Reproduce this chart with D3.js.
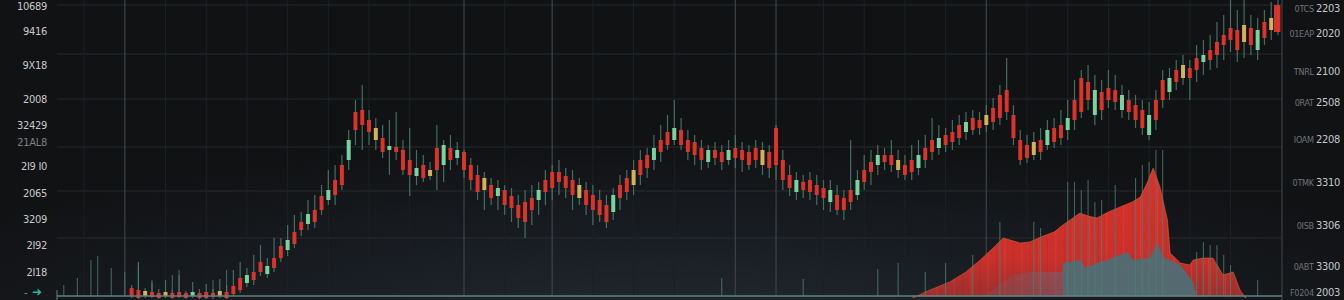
<!DOCTYPE html>
<html>
<head>
<meta charset="utf-8">
<script src="https://cdn.jsdelivr.net/npm/d3@7"></script>
<style>
    html, body { margin: 0; padding: 0; background: #121315; overflow: hidden; }
    #chart { width: 1344px; height: 300px; }
</style>
</head>
<body>
<div id="chart"></div>
<script>

// candles, one per day: [open, close, high, low]
const candles = [
    [12,4,15,2],[10,2,38,1],[4,9,12,2],[8,3,18,2],[7,2,11,1],[4,8,20,2],[7,2,10,1],[8,3,25,2],[7,2,9,1],[4,8,18,2],
    [7,2,11,1],[8,2,16,1],[7,3,11,1],[4,9,21,2],[8,2,15,1],[14,6,30,4],[22,10,38,7],[17,25,32,13],[28,20,45,15],[38,28,55,24],
    [26,34,42,22],[42,32,62,28],[54,42,62,38],[50,60,75,44],[68,56,85,52],[78,70,88,64],[76,86,100,70],[90,78,105,72],[104,90,115,85],[100,110,130,95],
    [120,105,135,95],[135,115,145,110],[140,160,170,130],[188,170,200,155],[190,175,215,150],[180,168,190,155],[160,172,182,150],[162,148,175,142],[150,154,180,125],[153,148,188,140],
    [150,130,160,125],[140,125,172,104],[124,132,150,115],[135,122,145,118],[124,130,138,120],[152,130,175,110],[135,155,160,118],[152,140,165,130],[142,150,158,135],[148,130,150,122],
    [135,120,142,110],[125,108,135,100],[110,122,128,90],[115,102,122,95],[104,112,120,90],[110,95,115,85],[104,92,112,78],[95,82,105,72],[98,78,110,62],[102,90,115,75],
    [100,110,118,85],[120,108,130,95],[128,112,135,100],[128,118,140,105],[124,112,132,102],[120,105,130,90],[102,115,122,95],[110,95,118,85],[105,90,115,75],[100,85,110,78],
    [95,78,105,72],[88,105,112,80],[115,102,125,90],[122,108,130,100],[115,130,140,105],[140,125,150,115],[145,132,152,122],[140,152,165,130],[160,148,175,138],[168,155,185,150],
    [160,172,200,155],[170,155,182,150],[160,148,170,140],[158,145,165,135],[152,140,160,130],[138,150,155,132],[150,142,158,135],[148,138,155,130],[140,150,160,135],[152,142,165,132],
    [150,140,158,128],[148,135,155,130],[152,140,160,132],[135,150,158,125],[148,132,155,122],[172,135,175,120],[140,120,150,110],[125,112,135,104],[108,120,128,100],[118,110,125,102],
    [120,108,128,100],[115,105,125,95],[112,102,120,90],[98,110,120,88],[105,90,115,85],[102,90,110,80],[110,98,160,90],[105,120,130,100],[130,118,145,110],[138,128,150,115],
    [135,145,155,125],[145,138,152,130],[145,135,160,128],[130,140,150,122],[135,125,145,120],[140,128,155,120],[132,145,160,125],[152,140,165,132],[160,148,182,140],[152,162,175,145],
    [165,155,172,148],[168,158,180,150],[175,162,185,155],[168,178,188,160],[182,170,190,165],[180,172,188,165],[175,185,195,168],[192,178,202,170],[205,182,215,175],[210,188,242,180],
    [185,162,195,155],[160,140,170,135],[155,142,165,137],[145,158,168,140],[160,148,172,140],[155,170,180,150],[172,158,182,152],[175,162,190,155],[170,182,200,160],[200,180,220,170],
    [222,188,230,182],[218,200,235,190],[185,210,225,175],[208,190,220,180],[212,200,230,192],[210,198,225,190],[190,205,215,182],[200,188,210,180],[195,180,205,172],[190,172,200,165],
    [165,185,198,160],[200,180,210,170],[220,200,230,192],[208,222,232,200],[230,218,240,210],[222,235,245,215],[232,222,240,200],[242,230,255,218],[238,245,260,225],[250,240,265,230],
    [258,245,278,232],[265,255,285,240],[272,260,300,248],[270,250,290,238],[258,275,300,242],[272,255,285,245],[250,270,282,240],[278,262,290,255],[270,282,298,260],[295,268,300,265]
];

// body tone of each candle: r = red, g = green, y = yellow
const candleTones = (
    "rryrryrrrg" + "rrryrrrgrr" + "grrgrrgrrg" + "rrgrrryrgr" + "rrgryrgrgr" +
    "rryrgrrrrr" + "grrrrryrrr" + "rgrryrrgrr" + "grrrrgrrgr" + "rrryrrrrgr" +
    "rrrgrrrgrr" + "grryrrgrrg" + "rrrgrryrrr" + "rrryrgrrgr" + "rrgrrrgrrr" +
    "grrgryrrgr" + "rrrryrgryr"
).split("");

// thin volume spikes: [day, top value]
const volumeSpikes = [
    [-10,15],[-8,22],[-6,40],[-5,44],[-3,32],[-1,28],[1,35],[3,20],[6,25],[7,30],[12,20],[14,30],
    [87,22],[99,21],[110,31],[113,37],[117,28],[120,37],[124,45],[128,78],[133,78],[134,72],
    [138,118],[139,118],[140,110],[141,120],[142,98],[143,100],[145,115],[148,122],[149,135],
    [150,138],[151,150],[152,150],[157,48],[158,58],[159,55],[160,55],[161,45],[162,35],[166,20]
];

// red volume mountain: [day, value]
const redVolume = [
    [115.2,2],[117,8],[120.6,18],[123,28],[125.1,40],[127,52],[128.5,62],[129.5,60],[131,57],[132.4,58],
    [134.4,64],[136,68],[137.3,75],[139.8,87],[141,84],[142.3,82],[144,88],[145.7,93],[147.5,98],[148.7,103],
    [149.7,117],[150.6,132],[151.6,113],[152.7,80],[153.1,47],[154.6,37],[156,35],[156.5,40],[158,42],
    [159.4,42],[160.9,25],[162.4,28],[163.4,10],[164.2,2]
];

// slate volume layer: [day, value]
const slateVolume = [
    [125.8,4],[128,16],[130,25],[132.4,28],[137.2,28],[137.3,37],[139.8,40],[140.6,32],[142,36],
    [143.8,40],[146.8,48],[147.6,40],[150.1,42],[151.2,57],[152.1,43],[154.6,35],[156.5,18],[157,4]
];

// horizontal grid levels and vertical grid days
const gridLevels = [295, 246, 201, 153, 109, 62];
const gridDays = [-7, -1, 5, 11, 17, 23, 29, 35, 41, 49, 55, 62, 68, 74, 80, 89, 95, 102, 108, 114, 120, 126, 132, 138, 144, 150, 156, 162];
const brightDays = [-1, 49, 62, 89, 95, 126];

// tick labels as they appear on the picture
const leftTicks = [
    { label: "10689", value: 294 }, { label: "9416", value: 269 }, { label: "9X18", value: 235 },
    { label: "2008", value: 201 }, { label: "32429", value: 175 }, { label: "21AL8", value: 158 },
    { label: "2I9 I0", value: 134 }, { label: "2065", value: 107 }, { label: "3209", value: 81 },
    { label: "2I92", value: 55 }, { label: "2I18", value: 28 }
];
const rightTicks = [
    { code: "0TCS", label: "2203", value: 294 }, { code: "01EAP", label: "2020", value: 269 },
    { code: "TNRL", label: "2100", value: 231 }, { code: "0RAT", label: "2508", value: 200 },
    { code: "IOAM", label: "2208", value: 163 }, { code: "0TMK", label: "3310", value: 120 },
    { code: "0ISB", label: "3306", value: 77 }, { code: "0ABT", label: "3300", value: 36 },
    { code: "F0204", label: "2003", value: 10 }
];

const toneColor = { r: "#e4342b", g: "#7ddca4", y: "#d9b95c" };

class CandleVis {

    constructor(parentElement) {
        this.parentElement = parentElement;
        this.initVis();
    }

    initVis() {
        let vis = this;

        vis.width = 1344;
        vis.height = 300;
        vis.plot = { left: 57, right: 1282 };

        vis.svg = d3.select("#" + vis.parentElement).append("svg")
            .attr("width", vis.width)
            .attr("height", vis.height);

        vis.x = d3.scaleLinear().domain([-11, 169]).range([57, 1278]);
        vis.y = d3.scaleLinear().domain([0, 300]).range([300, 0]);

        let defs = vis.svg.append("defs");

        // background glow, bluish towards the bottom middle
        let glow = defs.append("radialGradient").attr("id", "bgGlow")
            .attr("cx", "50%").attr("cy", "110%").attr("r", "62%");
        glow.append("stop").attr("offset", "0%").attr("stop-color", "#212a31");
        glow.append("stop").attr("offset", "55%").attr("stop-color", "#181c21");
        glow.append("stop").attr("offset", "100%").attr("stop-color", "#111214");

        let redFill = defs.append("linearGradient").attr("id", "redFill")
            .attr("x1", 0).attr("y1", 0).attr("x2", 0).attr("y2", 1);
        redFill.append("stop").attr("offset", "0%").attr("stop-color", "#dc3029");
        redFill.append("stop").attr("offset", "70%").attr("stop-color", "#c9302b");
        redFill.append("stop").attr("offset", "100%").attr("stop-color", "#9c2f2e");

        // slate layer is see-through on its left part
        let x0 = vis.x(125.8), x1 = vis.x(157), split = (vis.x(137.3) - x0) / (x1 - x0);
        let slateFill = defs.append("linearGradient").attr("id", "slateFill")
            .attr("gradientUnits", "userSpaceOnUse")
            .attr("x1", x0).attr("x2", x1).attr("y1", 0).attr("y2", 0);
        slateFill.append("stop").attr("offset", 0).attr("stop-color", "#6d6470").attr("stop-opacity", 0.2);
        slateFill.append("stop").attr("offset", split).attr("stop-color", "#6d6470").attr("stop-opacity", 0.55);
        slateFill.append("stop").attr("offset", split).attr("stop-color", "#4f6d74").attr("stop-opacity", 0.95);
        slateFill.append("stop").attr("offset", 1).attr("stop-color", "#4f6d74").attr("stop-opacity", 0.95);

        vis.svg.append("rect")
            .attr("width", vis.width).attr("height", vis.height)
            .attr("fill", "url(#bgGlow)");

        vis.wrangleData();
    }

    wrangleData() {
        let vis = this;

        vis.displayData = candles.map((c, i) => ({
            day: i, open: c[0], close: c[1], high: c[2], low: c[3], tone: candleTones[i]
        }));

        vis.updateVis();
    }

    updateVis() {
        let vis = this;
        let base = vis.y(4);

        // grid
        vis.svg.append("g").selectAll("line").data(gridLevels).enter()
            .append("line")
            .attr("x1", vis.plot.left).attr("x2", vis.plot.right)
            .attr("y1", d => vis.y(d)).attr("y2", d => vis.y(d))
            .attr("stroke", "#262a2f").attr("stroke-width", 1);

        vis.svg.append("g").selectAll("line").data(gridDays).enter()
            .append("line")
            .attr("x1", d => vis.x(d)).attr("x2", d => vis.x(d))
            .attr("y1", 0).attr("y2", base)
            .attr("stroke", d => brightDays.includes(d) ? "#3a4045" : "#1d2024")
            .attr("stroke-width", d => brightDays.includes(d) ? 1.3 : 1);

        // right border
        vis.svg.append("line")
            .attr("x1", vis.plot.right).attr("x2", vis.plot.right)
            .attr("y1", 0).attr("y2", vis.height)
            .attr("stroke", "#3b4044").attr("stroke-width", 1.2);

        // volume mountain
        let area = d3.area()
            .x(d => vis.x(d[0]))
            .y0(base)
            .y1(d => vis.y(d[1]));

        vis.svg.append("clipPath").attr("id", "redClip")
            .append("path").attr("d", area(redVolume));

        vis.svg.append("path")
            .attr("d", area(redVolume))
            .attr("fill", "url(#redFill)")
            .attr("stroke", "#e86a3a").attr("stroke-opacity", 0.5).attr("stroke-width", 1);

        // vertical streak texture inside the mountain
        let streaks = d3.range(0, 1.0001, 0.025).map(t => 115 + t * 50);
        vis.svg.append("g").attr("clip-path", "url(#redClip)")
            .selectAll("line").data(streaks).enter()
            .append("line")
            .attr("x1", d => vis.x(d)).attr("x2", d => vis.x(d))
            .attr("y1", 0).attr("y2", base)
            .attr("stroke", (d, i) => i % 2 ? "#ff7a66" : "#8f2424")
            .attr("stroke-opacity", 0.18).attr("stroke-width", 1);

        vis.svg.append("path")
            .attr("d", area(slateVolume))
            .attr("fill", "url(#slateFill)");

        // volume spikes
        vis.svg.append("g").selectAll("line").data(volumeSpikes).enter()
            .append("line")
            .attr("x1", d => vis.x(d[0])).attr("x2", d => vis.x(d[0]))
            .attr("y1", base).attr("y2", d => vis.y(d[1]))
            .attr("stroke", "#4f7f73").attr("stroke-opacity", 0.75).attr("stroke-width", 1.1);

        // candles
        let bw = 4;
        let candle = vis.svg.append("g").selectAll("g").data(vis.displayData).enter()
            .append("g");

        candle.append("line")
            .attr("x1", d => vis.x(d.day)).attr("x2", d => vis.x(d.day))
            .attr("y1", d => vis.y(d.high)).attr("y2", d => vis.y(d.low))
            .attr("stroke", "#4d7e70").attr("stroke-opacity", 0.85).attr("stroke-width", 1.2);

        candle.append("rect")
            .attr("x", d => vis.x(d.day) - (d.day === 169 ? bw : bw / 2))
            .attr("width", d => d.day === 169 ? bw * 1.6 : bw)
            .attr("y", d => vis.y(Math.max(d.open, d.close)))
            .attr("height", d => Math.max(2, Math.abs(vis.y(d.open) - vis.y(d.close))))
            .attr("fill", d => toneColor[d.tone])
            .attr("opacity", 0.95);

        // bottom axis
        vis.svg.append("line")
            .attr("x1", vis.plot.left).attr("x2", vis.plot.right)
            .attr("y1", base).attr("y2", base)
            .attr("stroke", "#5f8283").attr("stroke-width", 1.3);
        vis.svg.append("line")
            .attr("x1", vis.plot.left).attr("x2", vis.plot.left)
            .attr("y1", base - 6).attr("y2", vis.height)
            .attr("stroke", "#5f8283").attr("stroke-width", 1);

        // left labels
        vis.svg.append("g").selectAll("text").data(leftTicks).enter()
            .append("text")
            .attr("x", 47)
            .attr("y", d => vis.y(d.value))
            .attr("dy", "0.35em")
            .attr("text-anchor", "end")
            .text(d => d.label)
            .style("fill", d => d.label === "21AL8" ? "#7d8084" : "#c9c9c9")
            .style("font-family", "DejaVu Sans Condensed, DejaVu Sans")
            .style("font-size", "11px")
            .style("letter-spacing", "-0.3px");

        vis.svg.append("text")
            .attr("x", 24).attr("y", base - 4).attr("dy", "0.35em")
            .text("-")
            .style("fill", "#8a8d90").style("font-size", "10px")
            .style("font-family", "DejaVu Sans");
        vis.svg.append("text")
            .attr("x", 32).attr("y", base - 4).attr("dy", "0.35em")
            .text("➜")
            .style("fill", "#27b5a2").style("font-size", "12px")
            .style("font-family", "DejaVu Sans");

        // right labels
        let right = vis.svg.append("g").selectAll("text").data(rightTicks).enter()
            .append("text")
            .attr("x", 1340)
            .attr("y", d => vis.y(d.value))
            .attr("dy", "0.35em")
            .attr("text-anchor", "end")
            .style("font-family", "DejaVu Sans Condensed, DejaVu Sans")
            .style("letter-spacing", "-0.3px");
        right.append("tspan")
            .text(d => d.code + " ")
            .style("fill", "#707377")
            .style("font-size", "9px");
        right.append("tspan")
            .text(d => d.label)
            .style("fill", "#c4c6c8")
            .style("font-size", "11px");
    }
}

new CandleVis("chart");
</script>
</body>
</html>
